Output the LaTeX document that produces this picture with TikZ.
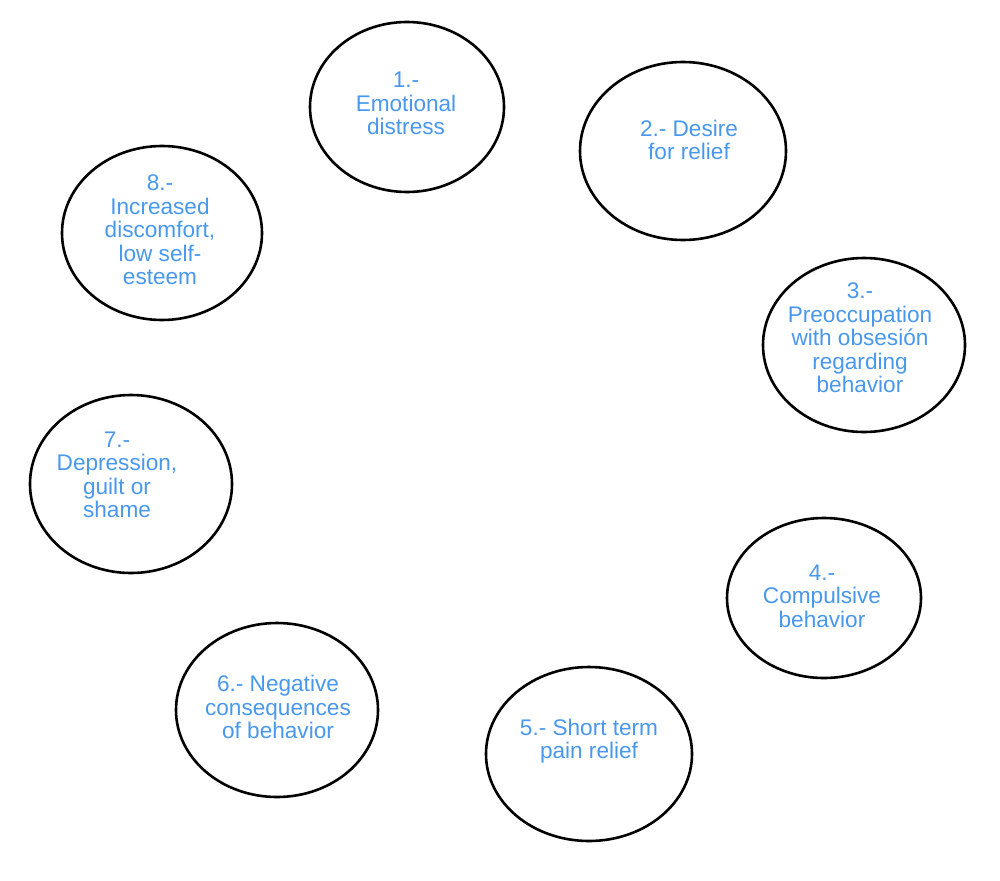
\documentclass[tikz,border=0pt]{standalone}
\usepackage{fontspec}
\setmainfont{Liberation Sans}
\usetikzlibrary{shapes.geometric}
\definecolor{txtblue}{RGB}{72,152,238}
\tikzset{
  ring/.style={ellipse, draw=black, line width=2.6pt, inner sep=0pt},
  lbl/.style={text=txtblue, align=center, inner sep=0pt,
    font=\fontsize{22.6}{23.5}\selectfont}
}
\begin{document}
\begin{tikzpicture}[x=1pt,y=-1pt]
\useasboundingbox[fill=white] (0,0) rectangle (1000,880);
\node[ring, minimum width=194pt, minimum height=170pt] (e1) at (407,107) {};
\node[ring, minimum width=206pt, minimum height=178pt] (e2) at (683,151) {};
\node[ring, minimum width=202pt, minimum height=174pt] (e3) at (864,345) {};
\node[ring, minimum width=194pt, minimum height=160pt] (e4) at (824,598) {};
\node[ring, minimum width=206pt, minimum height=174pt] (e5) at (589,754) {};
\node[ring, minimum width=202pt, minimum height=174pt] (e6) at (277,710) {};
\node[ring, minimum width=202pt, minimum height=178pt] (e7) at (131,484) {};
\node[ring, minimum width=200pt, minimum height=174pt] (e8) at (162,233) {};
\node[lbl] (t1) at (406,103.5) {1.-\\Emotional\\distress};
\node[lbl] (t2) at (689,140) {2.- Desire\\for relief};
\node[lbl] (t3) at (860,338) {3.-\\Preoccupation\\with obsesión\\regarding\\behavior};
\node[lbl] (t4) at (822,596) {4.-\\Compulsive\\behavior};
\node[lbl] (t5) at (589,741) {5.- Short term\\pain relief};
\node[lbl] (t6) at (278,707) {6.- Negative\\consequences\\of behavior};
\node[lbl] (t7) at (117,475) {7.-\\Depression,\\guilt or\\shame};
\node[lbl] (t8) at (160,230) {8.-\\Increased\\discomfort,\\low self-\\esteem};
\end{tikzpicture}
\end{document}
